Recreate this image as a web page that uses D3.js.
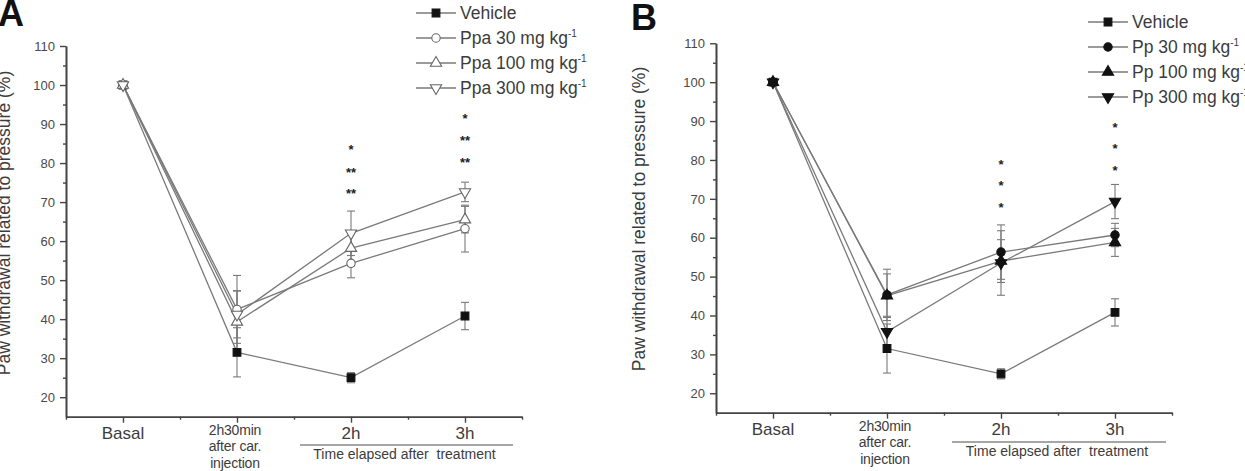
<!DOCTYPE html>
<html lang="en">
<head>
<meta charset="utf-8">
<title>Paw withdrawal</title>
<script src="https://cdnjs.cloudflare.com/ajax/libs/d3/7.8.5/d3.min.js"></script>
<style>
  body { margin: 0; background: #fff; }
  svg { display: block; font-family: "Liberation Sans", Arial, sans-serif; }
  .axis path, .axis line { stroke: #444; }
  .axis path { stroke-width: 1.6; }
  .axis text { fill: #4a4a4a; }
</style>
</head>
<body>
<svg id="chart" width="1245" height="471"></svg>
<script>
// categories on the x axis
var categories = ["Basal", "2h30min", "2h", "3h"];
var yTicks = [20, 30, 40, 50, 60, 70, 80, 90, 100, 110];

// panel A (Ppa)
var vehicle     = [100, 31.5, 25.0, 40.8];
var vehicleErr  = [0, 6.3, 1.3, 3.5];
var ppa30       = [100, 42.5, 54.3, 63.2];
var ppa30Err    = [0, 8.7, 3.7, 6.0];
var ppa100      = [100, 39.3, 58.2, 65.5];
var ppa100Err   = [0, 8.0, 4.5, 3.4];
var ppa300      = [100, 41.2, 62.0, 72.6];
var ppa300Err   = [0, 6.0, 5.7, 2.5];
// significance marks, A: [category index, y value, text]
var starsA = [[2, 84, "*"], [2, 78.3, "**"], [2, 72.8, "**"],
              [3, 92, "*"], [3, 86.4, "**"], [3, 80.7, "**"]];

// panel B (Pp)
var pp30      = [100, 45.3, 56.3, 60.7];
var pp30Err   = [0, 6.6, 7.0, 3.0];
var pp100     = [100, 45.1, 54.0, 58.8];
var pp100Err  = [0, 5.6, 5.5, 3.6];
var pp300     = [100, 35.8, 53.5, 69.3];
var pp300Err  = [0, 4.0, 8.3, 4.4];
var starsB = [[2, 79.6, "*"], [2, 74.1, "*"], [2, 68.4, "*"],
              [3, 89.1, "*"], [3, 83.6, "*"], [3, 77.9, "*"]];

var svg = d3.select("#chart");
var lineCol = "#7a7a7a";
var textCol = "#3c3c3c";

function marker(g, shape, filled, x, y) {
  var types = { square: d3.symbolSquare, circle: d3.symbolCircle, up: d3.symbolTriangle, down: d3.symbolTriangle };
  var size = shape === "square" ? 60 : 55;
  g.append("path")
    .attr("d", d3.symbol().type(types[shape]).size(size)())
    .attr("transform", "translate(" + x + "," + y + ")" + (shape === "down" ? " rotate(180)" : ""))
    .attr("fill", filled ? "#111" : "#fff")
    .attr("stroke", filled ? "#111" : "#666")
    .attr("stroke-width", 1.1);
}

function drawPanel(cfg) {
  var x = d3.scaleLinear().domain([0, 4]).range([cfg.x0, cfg.x0 + 456]);
  var y = d3.scaleLinear().domain([15, 110]).range([cfg.yBottom, cfg.yTop]);
  var g = svg.append("g");

  // y axis: minor then major
  g.append("g").attr("class", "axis").attr("transform", "translate(" + cfg.x0 + ",0)")
    .call(d3.axisLeft(y).tickValues(d3.range(25, 111, 10)).tickSize(3).tickSizeOuter(0).tickFormat(""));
  var ya = g.append("g").attr("class", "axis").attr("transform", "translate(" + cfg.x0 + ",0)")
    .call(d3.axisLeft(y).tickValues(yTicks).tickSize(6).tickSizeOuter(0).tickPadding(5));
  ya.selectAll("text").style("font-size", "13px");

  // x axis
  g.append("g").attr("class", "axis").attr("transform", "translate(0," + cfg.yBottom + ")")
    .call(d3.axisBottom(x).tickValues([0, 1, 2, 3, 4]).tickSize(3).tickSizeOuter(0).tickFormat(""));
  g.append("g").attr("class", "axis").attr("transform", "translate(0," + cfg.yBottom + ")")
    .call(d3.axisBottom(x).tickValues([0.5, 1.5, 2.5, 3.5]).tickSize(6).tickSizeOuter(0).tickFormat(""));
  g.selectAll(".axis line").attr("stroke-width", 1.4);

  // x labels
  var lb = cfg.yBottom + 22;
  g.append("text").attr("x", x(0.5)).attr("y", lb).attr("text-anchor", "middle")
    .attr("fill", textCol).style("font-size", "17px").text(categories[0]);
  ["2h30min", "after car.", "injection"].forEach(function (t, i) {
    g.append("text").attr("x", x(1.5) - 2).attr("y", cfg.yBottom + 18 + i * 16.5).attr("text-anchor", "middle")
      .attr("fill", textCol).style("font-size", "14px").style("letter-spacing", "-0.2px").text(t);
  });
  g.append("text").attr("x", x(2.5)).attr("y", lb).attr("text-anchor", "middle")
    .attr("fill", textCol).style("font-size", "17px").text(categories[2]);
  g.append("text").attr("x", x(3.5)).attr("y", lb).attr("text-anchor", "middle")
    .attr("fill", textCol).style("font-size", "17px").text(categories[3]);

  // bracket under 2h/3h
  g.append("line").attr("x1", cfg.brX0).attr("x2", cfg.brX1)
    .attr("y1", cfg.brY).attr("y2", cfg.brY).attr("stroke", "#888").attr("stroke-width", 1.3);
  g.append("text").attr("x", (cfg.brX0 + cfg.brX1) / 2 - 2).attr("y", cfg.brY + 14).attr("text-anchor", "middle")
    .attr("fill", textCol).style("font-size", "14px")
    .text("Time elapsed after\u00a0 treatment");

  // y title
  g.append("text").attr("transform", "translate(" + cfg.titleX + "," + cfg.titleY + ") rotate(-90)")
    .attr("text-anchor", "middle").attr("fill", textCol).style("font-size", "17.5px")
    .text("Paw withdrawal related to pressure (%)");

  // panel letter
  g.append("text").attr("x", cfg.letterX).attr("y", cfg.letterY).attr("fill", "#111")
    .style("font-size", "36px").style("font-weight", "bold").text(cfg.letter);

  var line = d3.line().x(function (d, i) { return x(i + 0.5); }).y(function (d) { return y(d); });

  // lines
  cfg.series.forEach(function (s) {
    g.append("path").datum(s.values).attr("d", line)
      .attr("fill", "none").attr("stroke", lineCol).attr("stroke-width", 1.3);
  });
  // error bars
  cfg.series.forEach(function (s) {
    s.values.forEach(function (v, i) {
      var e = s.err[i];
      if (!e) return;
      var cx = x(i + 0.5);
      g.append("line").attr("x1", cx).attr("x2", cx).attr("y1", y(v - e)).attr("y2", y(v + e))
        .attr("stroke", lineCol).attr("stroke-width", 1.1);
      [v - e, v + e].forEach(function (w) {
        g.append("line").attr("x1", cx - 4).attr("x2", cx + 4).attr("y1", y(w)).attr("y2", y(w))
          .attr("stroke", lineCol).attr("stroke-width", 1.1);
      });
    });
  });
  // markers
  cfg.series.forEach(function (s) {
    s.values.forEach(function (v, i) {
      marker(g, s.shape, s.filled, x(i + 0.5), y(v));
    });
  });
  // stars
  cfg.stars.forEach(function (st) {
    g.append("text").attr("x", x(st[0] + 0.5)).attr("y", y(st[1]) + 7)
      .attr("text-anchor", "middle").attr("fill", "#222")
      .style("font-size", "13px").style("font-weight", "bold").text(st[2]);
  });

  // legend
  cfg.series.forEach(function (s, i) {
    var ly = cfg.legY + i * 25;
    g.append("line").attr("x1", cfg.legX).attr("x2", cfg.legX + 40).attr("y1", ly).attr("y2", ly)
      .attr("stroke", lineCol).attr("stroke-width", 1.3);
    marker(g, s.shape, s.filled, cfg.legX + 20, ly);
    var t = g.append("text").attr("x", cfg.legX + 44).attr("y", ly + 6)
      .attr("fill", textCol).style("font-size", "17.5px").text(s.name);
    if (s.sup) {
      t.append("tspan").attr("dy", -7).style("font-size", "10px").text("-1");
    }
  });
}

drawPanel({
  letter: "A", letterX: -2, letterY: 26,
  x0: 66, yTop: 46, yBottom: 416.7,
  brX0: 300, brX1: 513, brY: 445,
  titleX: 10, titleY: 223,
  legX: 416, legY: 13,
  stars: starsA,
  series: [
    { name: "Vehicle", values: vehicle, err: vehicleErr, shape: "square", filled: true },
    { name: "Ppa 30 mg kg", sup: true, values: ppa30, err: ppa30Err, shape: "circle", filled: false },
    { name: "Ppa 100 mg kg", sup: true, values: ppa100, err: ppa100Err, shape: "up", filled: false },
    { name: "Ppa 300 mg kg", sup: true, values: ppa300, err: ppa300Err, shape: "down", filled: false }
  ]
});

drawPanel({
  letter: "B", letterX: 631, letterY: 30,
  x0: 716, yTop: 43.3, yBottom: 412.7,
  brX0: 952, brX1: 1166, brY: 442,
  titleX: 645, titleY: 219,
  legX: 1088, legY: 22,
  stars: starsB,
  series: [
    { name: "Vehicle", values: vehicle, err: vehicleErr, shape: "square", filled: true },
    { name: "Pp 30 mg kg", sup: true, values: pp30, err: pp30Err, shape: "circle", filled: true },
    { name: "Pp 100 mg kg", sup: true, values: pp100, err: pp100Err, shape: "up", filled: true },
    { name: "Pp 300 mg kg", sup: true, values: pp300, err: pp300Err, shape: "down", filled: true }
  ]
});
</script>
</body>
</html>
